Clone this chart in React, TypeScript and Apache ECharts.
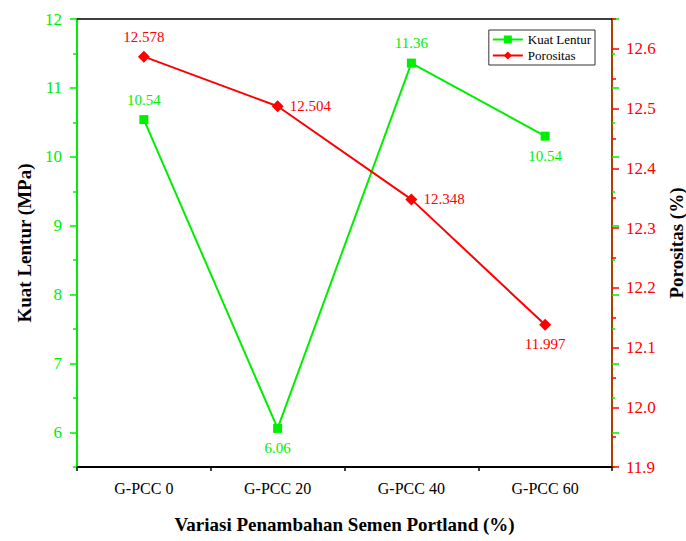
import React, { useEffect, useRef } from "react";
import * as echarts from "echarts";

const categories = ["G-PCC 0", "G-PCC 20", "G-PCC 40", "G-PCC 60"];
const kuatLentur = [10.54, 6.06, 11.36, 10.3];
const kuatLenturLabels = ["10.54", "6.06", "11.36", "10.54"];
const porositas = [12.587, 12.504, 12.348, 12.138];
const porositasLabels = ["12.578", "12.504", "12.348", "11.997"];
const leftMajor = [6, 7, 8, 9, 10, 11, 12];
const leftMinor = [5.5, 6.5, 7.5, 8.5, 9.5, 10.5, 11.5];
const rightMajor = [11.9, 12.0, 12.1, 12.2, 12.3, 12.4, 12.5, 12.6];
const rightMinor = [11.95, 12.05, 12.15, 12.25, 12.35, 12.45, 12.55, 12.65];

const GREEN = "#00ee00";
const RED = "#ff0000";
const FONT = "'Liberation Serif', 'DejaVu Serif', serif";

export default function App() {
  const ref = useRef<HTMLDivElement>(null);
  useEffect(() => {
    if (!ref.current) return;
    const chart = echarts.init(ref.current, null, { renderer: "svg" });
    const hiddenY = (min: number, max: number, pos: string, values: number[], len: number, color: string) => ({
      type: "value",
      position: pos,
      min,
      max,
      axisLine: { show: false },
      axisLabel: { show: false },
      splitLine: { show: false },
      axisTick: { show: true, customValues: values, length: len, lineStyle: { color, width: 1.5 } },
    });
    chart.setOption({
      animation: false,
      textStyle: { fontFamily: FONT },
      grid: { left: 77, right: 74, top: 19, bottom: 74, outerBoundsMode: "none", containLabel: false },
      legend: {
        orient: "vertical",
        right: 91,
        top: 30,
        backgroundColor: "#fff",
        borderColor: "#333",
        borderWidth: 1,
        borderRadius: 0,
        padding: [3, 4, 3, 3],
        itemGap: 3,
        itemWidth: 30,
        itemHeight: 10,
        textStyle: { fontFamily: FONT, fontSize: 13, color: "#000" },
        data: ["Kuat Lentur", "Porositas"],
      },
      xAxis: [
        {
          type: "category",
          data: categories,
          boundaryGap: true,
          position: "bottom",
          name: "Variasi Penambahan Semen Portland (%)",
          nameLocation: "middle",
          nameGap: 48,
          nameTextStyle: { fontFamily: FONT, fontSize: 19, fontWeight: "bold", color: "#000" },
          axisLine: { lineStyle: { color: "#000", width: 2 } },
          axisTick: { alignWithLabel: true, length: 7, lineStyle: { color: "#000", width: 1.5 } },
          axisLabel: { fontFamily: FONT, fontSize: 16, color: "#000", margin: 13 },
          splitLine: { show: false },
        },
        {
          type: "value",
          position: "bottom",
          min: 0,
          max: 4,
          interval: 1,
          axisLine: { show: false },
          axisLabel: { show: false },
          splitLine: { show: false },
          axisTick: { show: true, length: 4, lineStyle: { color: "#000", width: 1.5 } },
        },
        {
          type: "category",
          data: categories,
          boundaryGap: true,
          position: "top",
          axisLine: { lineStyle: { color: "#000", width: 1.5 } },
          axisTick: { alignWithLabel: true, inside: true, length: 7, lineStyle: { color: "#000", width: 1.5 } },
          axisLabel: { show: false },
          splitLine: { show: false },
        },
      ],
      yAxis: [
        {
          type: "value",
          position: "left",
          min: 5.5,
          max: 12,
          name: "Kuat Lentur (MPa)",
          nameLocation: "middle",
          nameGap: 42,
          nameTextStyle: { fontFamily: FONT, fontSize: 19, fontWeight: "bold", color: "#000" },
          axisLine: { show: true, lineStyle: { color: GREEN, width: 2 } },
          axisTick: { show: true, customValues: leftMajor, length: 7, lineStyle: { color: GREEN, width: 1.5 } },
          axisLabel: { customValues: leftMajor, fontFamily: FONT, fontSize: 17, color: GREEN, margin: 15 },
          splitLine: { show: false },
        },
        hiddenY(5.5, 12, "left", leftMinor, 4, GREEN),
        hiddenY(5.5, 12, "right", leftMajor, 7, GREEN),
        hiddenY(5.5, 12, "right", leftMinor, 3, GREEN),
        hiddenY(11.9, 12.65, "right", rightMinor, 4, RED),
        {
          type: "value",
          position: "right",
          min: 11.9,
          max: 12.65,
          name: "Porositas (%)",
          nameLocation: "middle",
          nameRotate: 90,
          nameGap: 51,
          nameTextStyle: { fontFamily: FONT, fontSize: 19, fontWeight: "bold", color: "#000" },
          axisLine: { show: true, lineStyle: { color: "#b04000", width: 2 } },
          axisTick: { show: true, customValues: rightMajor, length: 7, lineStyle: { color: RED, width: 1.5 } },
          axisLabel: {
            customValues: rightMajor,
            formatter: (v: number) => v.toFixed(1),
            fontFamily: FONT,
            fontSize: 17,
            color: RED,
            margin: 14,
          },
          splitLine: { show: false },
        },
      ],
      series: [
        {
          name: "Kuat Lentur",
          type: "line",
          xAxisIndex: 0,
          yAxisIndex: 0,
          data: kuatLentur.map((v, i) => ({
            value: v,
            label: { position: i === 1 || i === 3 ? "bottom" : "top" },
          })),
          symbol: "rect",
          symbolSize: 9,
          itemStyle: { color: GREEN },
          lineStyle: { color: GREEN, width: 2 },
          label: {
            show: true,
            formatter: (p: any) => kuatLenturLabels[p.dataIndex],
            fontFamily: FONT,
            fontSize: 15,
            color: GREEN,
            distance: 8,
          },
        },
        {
          name: "Porositas",
          type: "line",
          xAxisIndex: 0,
          yAxisIndex: 5,
          data: porositas.map((v, i) => ({
            value: v,
            label: { position: i === 0 ? "top" : i === 3 ? "bottom" : "right" },
          })),
          symbol: "diamond",
          symbolSize: 12,
          itemStyle: { color: RED },
          lineStyle: { color: RED, width: 2 },
          label: {
            show: true,
            formatter: (p: any) => porositasLabels[p.dataIndex],
            fontFamily: FONT,
            fontSize: 15,
            color: RED,
            distance: 6,
          },
        },
      ],
    });
    return () => chart.dispose();
  }, []);
  return (
    <div
      ref={ref}
      style={{ position: "fixed", left: 0, top: 0, width: 686, height: 541, background: "#fff" }}
    />
  );
}
